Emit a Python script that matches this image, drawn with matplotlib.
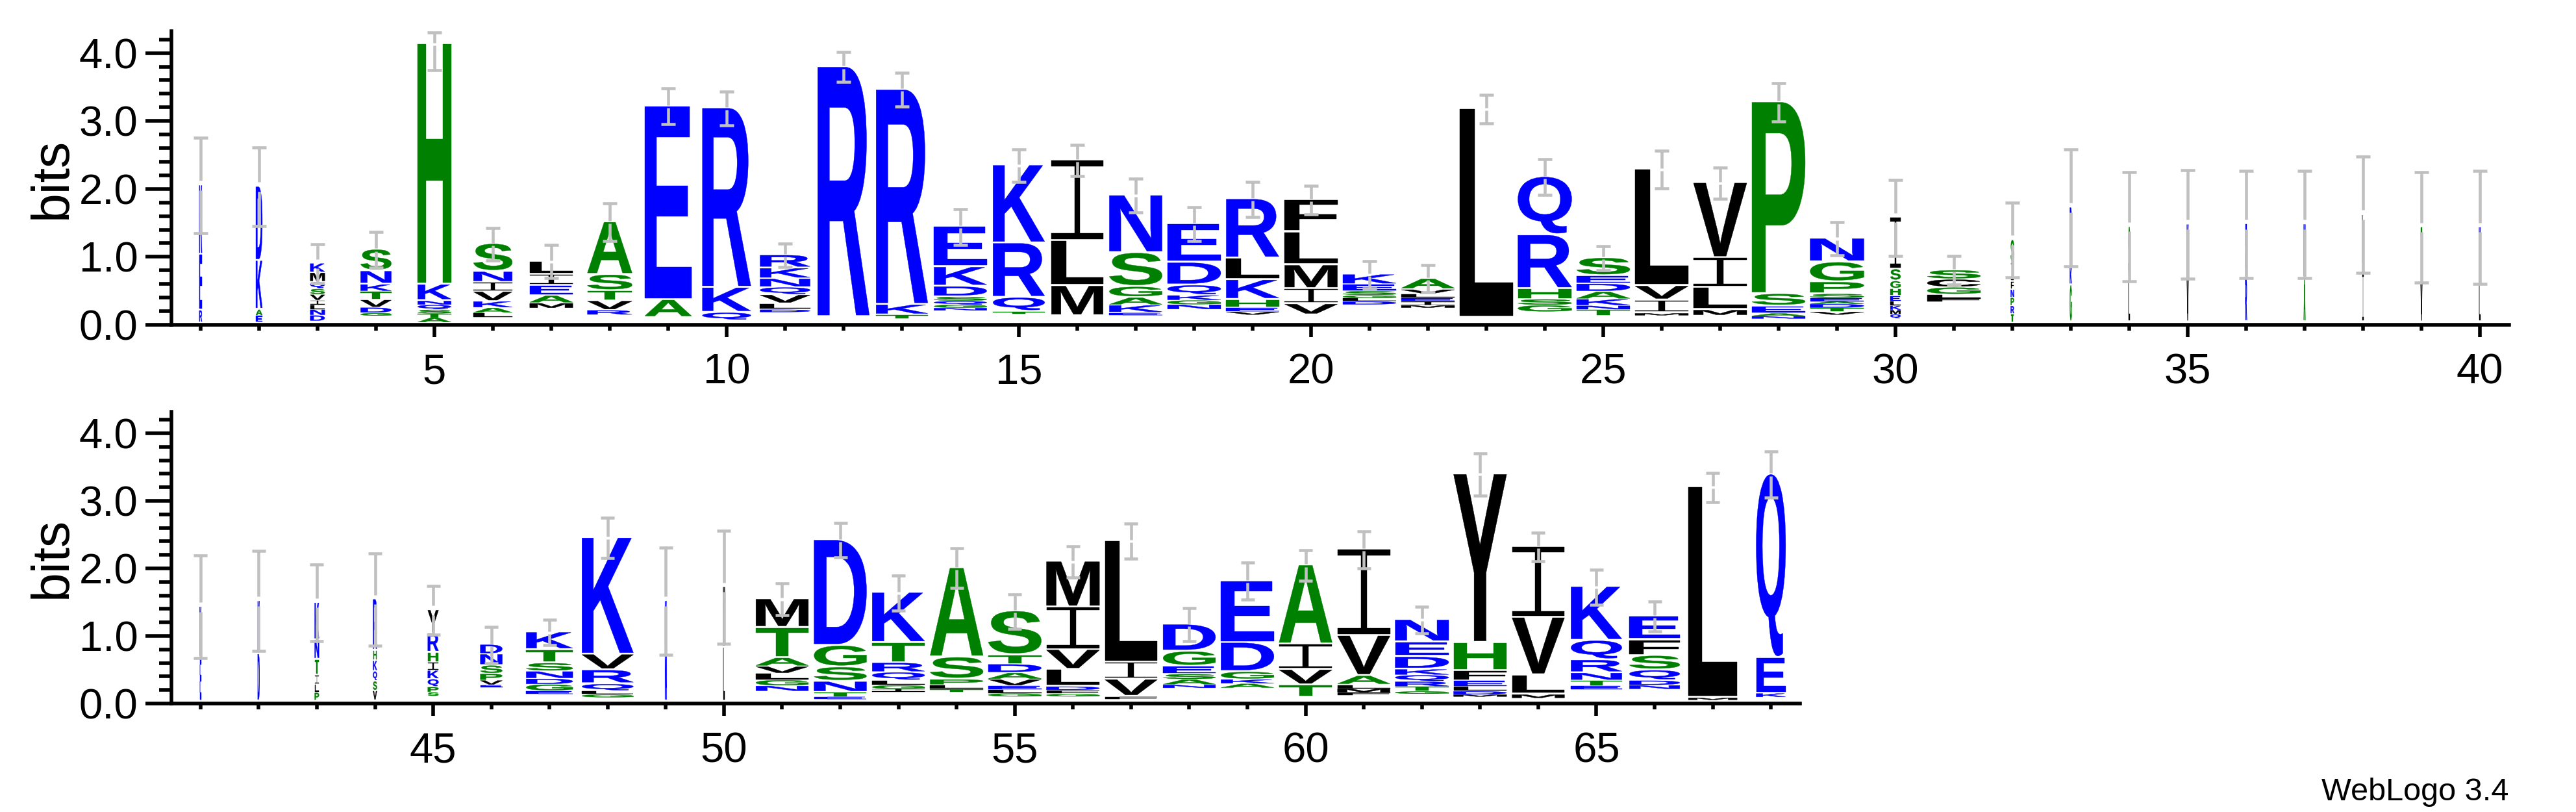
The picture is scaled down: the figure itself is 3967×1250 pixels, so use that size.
"""
Sequence logo (WebLogo style) drawn with matplotlib patches.
"""
import matplotlib
matplotlib.use("Agg")
import matplotlib.pyplot as plt
from matplotlib.textpath import TextPath
from matplotlib.font_manager import FontProperties
from matplotlib.patches import PathPatch
from matplotlib.path import Path
from matplotlib.transforms import Affine2D
from matplotlib.ticker import MultipleLocator

plt.rcParams['font.family'] = ['Liberation Sans', 'DejaVu Sans']

# residues of each stack, bottom -> top, one string per position 1..68
letters = [
    "REK", "EAKD", "DNLIVSQMK", "GDVTKNS", "ATSQNKH", "LAKVINS", "MAEIL", "RVTSA",
    "AE", "QKR", "DLVQNKR", "R", "TKR", "NGQSDKE", "TQRK", "MLI",
    "EKAGSN", "NGKQDE", "VEHKLR", "VIMLF", "DLGSEK", "MIELVA", "L", "GSHRQ",
    "TNKADES", "MIVL", "MLIV", "NAESP", "VTDAESPGN", "QMKLEHGSI", "FLGCS", "TRPNFIS",
    "GKR", "LS", "VK", "RE", "AN", "IL", "VT", "LK",
    "EK", "DK", "PLITNK", "VSQKHR", "SPQKIHRY", "EVPSND", "EGDNSTK", "GLQRVK",
    "NK", "LM", "NGLVATM", "ETNSGD", "IGLQRTK", "TLPSA", "GLEVADTS", "GFDLVIM",
    "FVIL", "NASEGD", "AKGDE", "TVIA", "FMLAVI", "GTRQKDEN", "MDLEFHY", "MLVI",
    "ETNRQK", "NDQSFE", "ML", "KEQ",
]

# letter heights in bits, same order as letters
heights = [
    [0.19, 0.82, 1.02], [0.10, 0.09, 0.72, 1.09],
    [.085, .085, .068, .068, .085, .085, .10, .137, .137],
    [.041, .079, .113, .123, .106, .195, .318], [.07, .06, .06, .07, .06, .24, 3.54],
    [.061, .075, .096, .143, .137, .157, .41], [.075, .113, .147, .16, .195],
    [.068, .137, .147, .239, .775], [.263, 2.853], [.114, .368, 2.641],
    [.038, .089, .127, .111, .127, .155, .193], [3.678], [.057, .149, 3.164],
    [.038, .048, .054, .063, .152, .285, .593], [.032, .209, .799, 1.148],
    [.444, .666, 1.183], [.041, .108, .114, .159, .498, .847],
    [.073, .063, .073, .149, .333, .571], [.044, .057, .12, .292, .317, .872],
    [.159, .222, .349, .488, .476], [.048, .048, .041, .063, .095, .149],
    [.038, .057, .048, .063, .063, .159], [3.069], [.101, .089, .152, .793, .856],
    [.086, .057, .095, .111, .117, .114, .266], [.032, .19, .212, 1.715],
    [.079, .333, .434, 1.103], [.038, .041, .105, .181, 2.822],
    [.044, .057, .057, .038, .048, .063, .174, .292, .349],
    [.063, .063, .063, .063, .079, .111, .111, .174, .761],
    [.048, .054, .105, .117, .136], [.12, .12, .12, .12, .12, .27, .342],
    [.546, .256, .888], [.63, .78], [.63, .81], [.65, .79], [.65, .79],
    [.72, .864], [.58, .82], [.56, .84],
    [.65, .75], [.70, .785], [.116, .124, .135, .232, .29, .552],
    [.143, .143, .147, .155, .155, .757], [.058, .077, .116, .127, .124, .143, .282, .348],
    [.039, .066, .097, .124, .166, .143], [.05, .097, .085, .108, .124, .193, .263],
    [.046, .05, .104, .205, .232, 1.727], [.80, .685], [.80, .892],
    [.08, .086, .096, .105, .128, .446, .424], [.041, .064, .159, .214, .319, 1.563],
    [.038, .057, .07, .121, .14, .297, .743], [.038, .064, .08, .328, 1.32],
    [.048, .057, .054, .096, .096, .128, .137, .65],
    [.041, .054, .054, .249, .293, .631, .676], [.041, .255, .255, 1.795],
    [.048, .08, .08, .112, .223, .399], [.064, .064, .112, .43, .915],
    [.185, .23, .376, 1.17], [.041, .054, .057, .134, .593, 1.276],
    [.038, .07, .073, .096, .086, .185, .217, .332],
    [.032, .048, .07, .083, .15, .415, 2.494], [.054, .287, .851, 1.046],
    [.054, .08, .112, .191, .287, .797], [.057, .07, .153, .214, .233, .348],
    [.032, 3.115], [.057, .526, 2.717],
]

# bits of residues too small to be drawn (bottom of each stack)
hidden = [
    0.02, 0.03, 0.05, 0.13, 0.03, 0.11, 0.24, 0.143, 0.10, 0.062,
    0.183, 0.113, 0.088, 0.207, 0.157, 0.125, 0.135, 0.221, 0.145, 0.144,
    0.294, 0.247, 0.103, 0.183, 0.135, 0.136, 0.136, 0.087, 0.145, 0.088,
    0.34, 0.034, 0.034, 0.034, 0.035, 0.038, 0.038, 0.034, 0.034, 0.034,
    0.03, 0.03, 0.04, 0.04, 0.106, 0.234, 0.132, 0.086, 0.03, 0.03,
    0.178, 0.057, 0.172, 0.172, 0.099, 0.1, 0.057, 0.225, 0.226, 0.083,
    0.121, 0.14, 0.099, 0.077, 0.204, 0.21, 0.051, 0.09,
]

# half size of the error bars (bits)
errors = [
    0.70, 0.58, 0.29, 0.265, 0.38, 0.24, 0.245, 0.28, 0.26, 0.25,
    0.17, 0.22, 0.25, 0.26, 0.24, 0.23, 0.245, 0.245, 0.26, 0.21,
    0.20, 0.20, 0.21, 0.26, 0.18, 0.28, 0.23, 0.28, 0.245, 0.56,
    0.21, 0.55, 0.86, 0.80, 0.80, 0.79, 0.79, 0.855, 0.81, 0.83,
    0.76, 0.74, 0.57, 0.68, 0.36, 0.27, 0.19, 0.30, 0.79, 0.84,
    0.235, 0.255, 0.26, 0.295, 0.255, 0.23, 0.26, 0.245, 0.275, 0.23,
    0.275, 0.20, 0.31, 0.21, 0.26, 0.22, 0.22, 0.34,
]

# relative stack width (fraction of sequences occupying the column)
occupancy = [
    0.05, 0.12, 0.27, 0.57, 0.62, 0.72, 0.80, 0.83, 0.87, 0.90,
    0.93, 0.96, 0.96, 0.98, 0.96, 0.96, 0.98, 0.99, 0.98, 0.98,
    0.99, 0.99, 1.0, 1.0, 0.99, 0.99, 0.99, 0.99, 1.0, 0.19,
    0.99, 0.06, 0.035, 0.03, 0.03, 0.03, 0.03, 0.03, 0.03, 0.03,
    0.03, 0.035, 0.08, 0.07, 0.2, 0.41, 0.87, 0.96, 0.03, 0.03,
    0.98, 0.98, 0.98, 0.99, 0.99, 0.99, 0.98, 0.98, 0.99, 0.99,
    0.98, 1.0, 0.99, 0.98, 0.95, 0.94, 0.91, 0.55,
]

COLORS = {}
for c in "KREDQNBZ":
    COLORS[c] = "#0000ff"
for c in "HASGTP":
    COLORS[c] = "#008000"
for c in "LVIMFYWC":
    COLORS[c] = "#000000"

FP = FontProperties(family="Liberation Sans", weight="bold")
GLYPHS = {}
YMAX = 4.3219  # log2(20)


def Glyph(ch):
    """ unit-square path of a letter """
    if ch not in GLYPHS:
        if ch == "I":
            bar, stem = 0.07, 0.11
            rects = [(0, 0, 1, bar), (0.5 - stem/2, bar, stem, 1 - 2*bar), (0, 1 - bar, 1, bar)]
            verts, codes = [], []
            for x, y, w, h in rects:
                verts += [(x, y), (x + w, y), (x + w, y + h), (x, y + h), (x, y)]
                codes += [Path.MOVETO, Path.LINETO, Path.LINETO, Path.LINETO, Path.CLOSEPOLY]
            GLYPHS[ch] = Path(verts, codes)
        else:
            p = TextPath((0, 0), ch, size=1, prop=FP)
            b = p.get_extents()
            GLYPHS[ch] = p.transformed(Affine2D().translate(-b.x0, -b.y0).scale(1/b.width, 1/b.height))
    return GLYPHS[ch]


def DrawLogo(ax, first, last):
    for pos in range(first, last + 1):
        i = pos - 1
        w = 0.92*occupancy[i]
        y = hidden[i]
        for ch, h in zip(letters[i], heights[i]):
            g = min(0.03, 0.15*h)
            path = Glyph(ch).transformed(Affine2D().scale(w, h - g).translate(pos - w/2, y + g))
            col = COLORS[ch]
            ax.add_patch(PathPatch(path, fc=col, ec=col, lw=0.3, zorder=2))
            y += h
        # error bar, broken at the stack top
        e = errors[i]
        gap = 0.02 if occupancy[i] > 0.3 else 0.07
        hi = min(y + e, YMAX - 0.02)
        kw = dict(color="#c0c0c0", lw=3.3, zorder=3)
        ax.vlines(pos, y - e, y - gap, **kw)
        ax.vlines(pos, y + gap, hi, **kw)
        ax.hlines([y - e, hi], pos - 0.117, pos + 0.117, **kw)

    ax.set_xlim(first - 0.5, last + 0.5)
    ax.set_ylim(0, YMAX)
    for s in ("top", "right"):
        ax.spines[s].set_visible(False)
    for s in ("left", "bottom"):
        ax.spines[s].set_linewidth(4)
    ax.set_xticks([p for p in range(first, last + 1) if p % 5 == 0])
    ax.xaxis.set_minor_locator(MultipleLocator(1))
    ax.set_yticks([0, 1, 2, 3, 4])
    ax.set_yticklabels(["0.0", "1.0", "2.0", "3.0", "4.0"])
    ax.yaxis.set_minor_locator(MultipleLocator(0.2))
    ax.tick_params(axis="y", which="major", length=29, width=4, labelsize=47, pad=8)
    ax.tick_params(axis="y", which="minor", length=14, width=4)
    ax.tick_params(axis="x", which="major", length=14, width=4, labelsize=47, pad=17)
    ax.tick_params(axis="x", which="minor", length=6.5, width=4)
    ax.set_ylabel("bits", fontsize=58)


if __name__ == "__main__":

    W, H = 3967., 1250.
    fig = plt.figure(figsize=(W/100, H/100), dpi=100)

    ax1 = fig.add_axes([264/W, 750/H, 3600/W, YMAX*104.6/H])
    DrawLogo(ax1, 1, 40)
    ax1.yaxis.set_label_coords(-145/3600, 0.5)

    ax2 = fig.add_axes([264/W, 167/H, 2508/W, YMAX*104/H])
    DrawLogo(ax2, 41, 68)
    ax2.yaxis.set_label_coords(-145/2508, 0.5)

    fig.text(3863/W, 1 - 1232/H, "WebLogo 3.4", ha="right", va="baseline", fontsize=35)

    fig.savefig("out.png", dpi=100)
